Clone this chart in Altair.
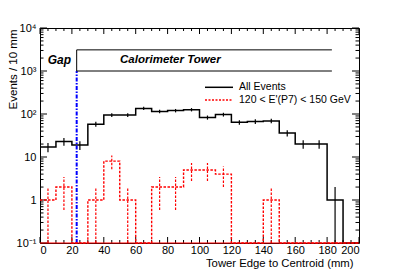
import math
import altair as alt
import pandas as pd

# ---------------- data ----------------
bin_edges = list(range(0, 201, 10))
all_events = [17, 23, 19, 58, 95, 95, 135, 115, 120, 126, 83, 97, 64, 67, 69, 36, 20, 20, 1, 0]
selected = [1, 2, 0, 1, 8, 1, 0, 2, 2, 5, 5, 4, 0, 0, 1, 0, 0, 0, 0, 0]
series_names = ["All Events", "120 < E'(P7) < 150 GeV"]

x_tick_values = [0, 20, 40, 60, 80, 100, 120, 140, 160, 180, 200]
x_minor_values = [v for v in range(0, 201, 5) if v % 20 != 0]
y_tick_values = [0.1, 1, 10, 100, 1000, 10000]
y_tick_labels = ["10\u207b\u00b9", "1", "10", "10\u00b2", "10\u00b3", "10\u2074"]
y_minor_values = [m * d for d in [0.1, 1, 10, 100, 1000] for m in range(2, 10)]

gap_x = [23]
gap_y = [0.1, 1000]
box_x = [23, 183]
box_y = [1000, 3100]
gap_label = ["Gap"]
tower_label = ["Calorimeter Tower"]

YMIN = 0.1
W, H = 319, 215
FONT = "Liberation Sans"

# ---------------- tables ----------------
def step_table(counts, name):
    rows = [{"x": bin_edges[i], "y": max(c, YMIN), "series": name} for i, c in enumerate(counts)]
    rows.append({"x": bin_edges[-1], "y": max(counts[-1], YMIN), "series": name})
    return pd.DataFrame(rows)

def err_table(counts, name):
    rows = []
    for i, c in enumerate(counts):
        if c > 0:
            s = math.sqrt(c)
            rows.append({"x": bin_edges[i] + 5, "y": max(c - s, YMIN), "y2": c + s, "series": name})
    return pd.DataFrame(rows)

xs = alt.Scale(domain=[0, 200], nice=False, zero=False)
ys = alt.Scale(type="log", domain=[0.1, 10000], nice=False)

label_expr = "".join(f"datum.value == {v} ? '{l}' : " for v, l in zip(y_tick_values, y_tick_labels)) + "''"

x_axis = alt.Axis(values=x_tick_values, title="Tower Edge to Centroid (mm)", format="d",
                  labelPadding=1, titleX=313, titleY=23, titleAlign="right",
                  titleBaseline="alphabetic", titleFontSize=11.3, labelOverlap=False)
y_axis = alt.Axis(values=y_tick_values, labelExpr=label_expr, title="Events / 10 mm",
                  labelPadding=4, titleX=-27, titleY=1, titleAlign="right", titleAngle=-90,
                  titleBaseline="middle", titleFontSize=11.5, labelOverlap=False, labelBaseline="middle")

def X(field="x"):
    return alt.X(f"{field}:Q", scale=xs, axis=x_axis)

def Y(field="y"):
    return alt.Y(f"{field}:Q", scale=ys, axis=y_axis)

black = alt.Chart(step_table(all_events, series_names[0])).mark_line(
    interpolate="step-after", color="black", strokeWidth=1.5).encode(x=X(), y=Y())
black_err = alt.Chart(err_table(all_events, series_names[0])).mark_rule(
    color="black", strokeWidth=1.2).encode(x=X(), y=Y(), y2="y2:Q")
red = alt.Chart(step_table(selected, series_names[1])).mark_line(
    interpolate="step-after", color="red", strokeWidth=1.4, strokeDash=[2.5, 1.5]).encode(x=X(), y=Y())
red_err = alt.Chart(err_table(selected, series_names[1])).mark_rule(
    color="red", strokeWidth=1.2, strokeDash=[2.5, 1.5]).encode(x=X(), y=Y(), y2="y2:Q")
red_base = alt.Chart(pd.DataFrame({"x": [0], "x2": [200], "y": [YMIN]})).mark_rule(
    color="red", strokeWidth=1.2).encode(x=X(), x2="x2:Q", y=Y())

gap_line = alt.Chart(pd.DataFrame({"x": gap_x, "y": [gap_y[0]], "y2": [gap_y[1]]})).mark_rule(
    color="#0000ff", strokeWidth=2, strokeDash=[4, 1.5, 1.5, 1.5]).encode(x=X(), y=Y(), y2="y2:Q")
box_h = alt.Chart(pd.DataFrame({"x": [box_x[0]] * 2, "x2": [box_x[1]] * 2, "y": box_y})).mark_rule(
    color="black", strokeWidth=1).encode(x=X(), x2="x2:Q", y=Y())
box_v = alt.Chart(pd.DataFrame({"x": [box_x[0]], "y": [box_y[0]], "y2": [box_y[1]]})).mark_rule(
    color="black", strokeWidth=1).encode(x=X(), y=Y(), y2="y2:Q")
gap_text = alt.Chart(pd.DataFrame({"x": [12.2], "y": [1800], "t": gap_label})).mark_text(
    font=FONT, fontSize=12, fontWeight="bold", fontStyle="italic", align="center", baseline="middle",
    color="black").encode(x=X(), y=Y(), text="t:N")
tower_text = alt.Chart(pd.DataFrame({"x": [50.2], "y": [1800], "t": tower_label})).mark_text(
    font=FONT, fontSize=11.5, fontWeight="bold", fontStyle="italic", align="left", baseline="middle",
    color="black").encode(x=X(), y=Y(), text="t:N")

# inward ticks on all four sides
def xticks(vals, length):
    d = pd.DataFrame({"x": vals})
    bot = alt.Chart(d).mark_rule(color="black", strokeWidth=1).encode(
        x=X(), y=alt.value(H), y2=alt.value(H - length))
    top = alt.Chart(d).mark_rule(color="black", strokeWidth=1).encode(
        x=X(), y=alt.value(0), y2=alt.value(length))
    return [bot, top]

def yticks(vals, length):
    d = pd.DataFrame({"y": vals})
    left = alt.Chart(d).mark_rule(color="black", strokeWidth=1).encode(
        y=Y(), x=alt.value(0), x2=alt.value(length))
    right = alt.Chart(d).mark_rule(color="black", strokeWidth=1).encode(
        y=Y(), x=alt.value(W), x2=alt.value(W - length))
    return [left, right]

ticks = xticks(x_tick_values, 6) + xticks(x_minor_values, 3) + yticks(y_tick_values, 7) + yticks(y_minor_values, 3.5)

# legend
leg_black = alt.Chart(pd.DataFrame({"label": [series_names[0]]})).mark_rule(color="black", strokeWidth=1.5).encode(
    x=alt.value(165), x2=alt.value(193), y=alt.value(59.3))
leg_red = alt.Chart(pd.DataFrame({"label": [series_names[1]]})).mark_rule(
    color="red", strokeWidth=1.4, strokeDash=[2, 1.5]).encode(
    x=alt.value(165), x2=alt.value(193), y=alt.value(72))
leg_t1 = alt.Chart(pd.DataFrame({"label": [series_names[0]]})).mark_text(
    font=FONT, fontSize=10.5, align="left", baseline="middle", color="black").encode(
    x=alt.value(199), y=alt.value(59), text="label:N")
leg_t2 = alt.Chart(pd.DataFrame({"label": [series_names[1]]})).mark_text(
    font=FONT, fontSize=10.5, align="left", baseline="middle", color="black").encode(
    x=alt.value(199), y=alt.value(72), text="label:N")

chart = alt.layer(
    black, *ticks, gap_line, black_err, red, red_err, red_base,
    box_h, box_v, gap_text, tower_text, leg_black, leg_red, leg_t1, leg_t2
).properties(
    width=W, height=H,
    autosize=alt.AutoSizeParams(type="none"),
    padding={"left": 32, "top": 20, "right": 32, "bottom": 28},
).configure_view(
    stroke="black", strokeWidth=1
).configure_axis(
    ticks=False, domain=False, grid=False,
    labelFont=FONT, labelFontSize=11, labelColor="black",
    titleFont=FONT, titleFontWeight="normal", titleColor="black",
)

chart.save("out.html", embed_options={"renderer": "svg", "actions": False})
